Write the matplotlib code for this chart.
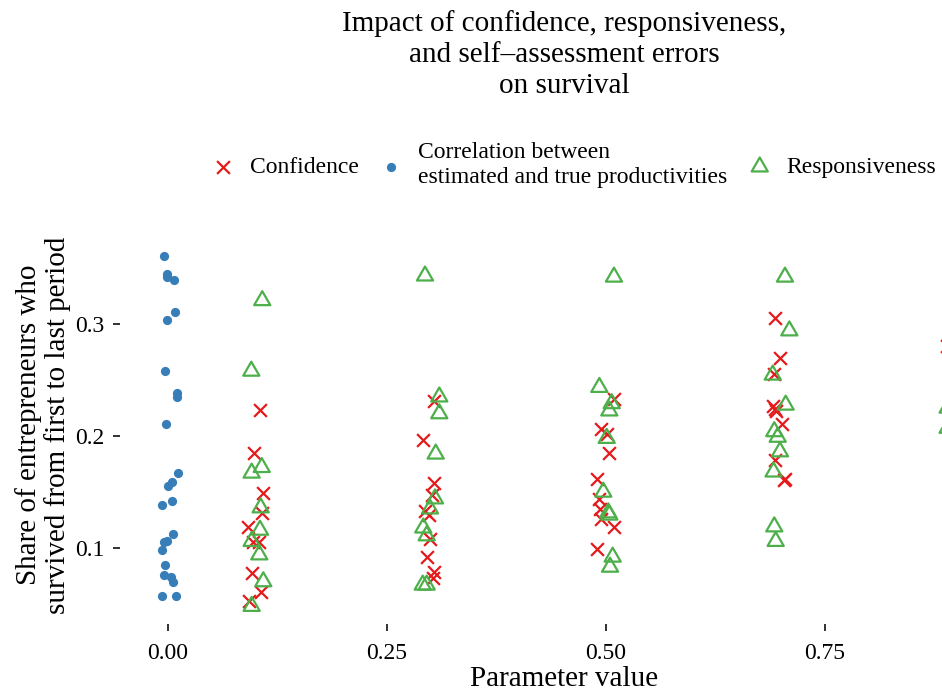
import matplotlib
matplotlib.use("Agg")
import matplotlib.pyplot as plt
from matplotlib.path import Path
import numpy as np

# ---- data (x includes the visible jitter) ----
conf_x = [0.1050, 0.0982, 0.1081, 0.1070, 0.0917, 0.0974, 0.1042, 0.0955, 0.1058, 0.0928,
          0.3037, 0.2914, 0.3037, 0.3010, 0.2934, 0.2983, 0.2991, 0.2953, 0.3037, 0.3029,
          0.5091, 0.4939, 0.5008, 0.5038, 0.4901, 0.4924, 0.4932, 0.4939, 0.5091, 0.4901,
          0.6929, 0.6986, 0.6918, 0.6910, 0.6929, 0.6941, 0.7005, 0.6929, 0.7043, 0.7032,
          0.8890]
conf_y = [0.223, 0.185, 0.149, 0.1315, 0.119, 0.105, 0.105, 0.078, 0.061, 0.053,
          0.231, 0.196, 0.158, 0.147, 0.133, 0.1295, 0.108, 0.092, 0.079, 0.073,
          0.233, 0.206, 0.202, 0.185, 0.162, 0.1435, 0.135, 0.126, 0.119, 0.099,
          0.305, 0.270, 0.255, 0.227, 0.224, 0.222, 0.211, 0.1786, 0.162, 0.161,
          0.280]

corr_x = [-0.0046, -0.0015, -0.0015, 0.0068, 0.0080, -0.0008, -0.0034, 0.0099, 0.0099,
          -0.0026, 0.0111, 0.0042, 0.0003, -0.0068, 0.0046, 0.0054, -0.0015, -0.0046,
          -0.0068, -0.0038, -0.0042, 0.0034, 0.0054, -0.0068, 0.0095]
corr_y = [0.361, 0.345, 0.342, 0.339, 0.311, 0.304, 0.258, 0.238, 0.235,
          0.211, 0.167, 0.159, 0.155, 0.138, 0.142, 0.1125, 0.106, 0.105,
          0.098, 0.085, 0.076, 0.074, 0.070, 0.057, 0.057]

resp_x = [0.1076, 0.0951, 0.1070, 0.0955, 0.1058, 0.1050, 0.0955, 0.1042, 0.1088, 0.0955,
          0.2934, 0.3097, 0.3097, 0.3056, 0.3048, 0.2991, 0.2914, 0.2953, 0.2908, 0.2953,
          0.5091, 0.4924, 0.5065, 0.5038, 0.5008, 0.4969, 0.5026, 0.5038, 0.5076, 0.5046,
          0.7043, 0.7093, 0.6903, 0.7051, 0.6921, 0.6960, 0.6986, 0.6913, 0.6921, 0.6937,
          0.8900, 0.8900]
resp_y = [0.321, 0.258, 0.172, 0.167, 0.136, 0.116, 0.106, 0.094, 0.070, 0.048,
          0.343, 0.235, 0.220, 0.184, 0.144, 0.135, 0.118, 0.111, 0.067, 0.067,
          0.342, 0.2435, 0.229, 0.2225, 0.198, 0.150, 0.1315, 0.1295, 0.092, 0.083,
          0.342, 0.294, 0.2545, 0.2277, 0.204, 0.199, 0.186, 0.168, 0.119, 0.106,
          0.225, 0.207]

series_labels = ["Confidence",
                 "Correlation between\nestimated and true productivities",
                 "Responsiveness"]
x_ticks = [0.0, 0.25, 0.5, 0.75]
x_tick_labels = ["0.00", "0.25", "0.50", "0.75"]
y_ticks = [0.1, 0.2, 0.3]
y_tick_labels = ["0.1", "0.2", "0.3"]

title = "Impact of confidence, responsiveness,\nand self\u2013assessment errors\non survival"
xlabel = "Parameter value"
ylabel = "Share of entrepreneurs who\nsurvived from first to last period"

# ---- style ----
plt.rcParams['font.family'] = ['Liberation Serif', 'DejaVu Serif']
RED, BLUE, GREEN = "#E41A1C", "#377EB8", "#4DAF4A"

W, H = 942, 695
fig = plt.figure(figsize=(W / 100, H / 100), dpi=100)

# panel in pixels (extends beyond the right edge, as in the cropped original)
L, R, T, B = 120, 1008, 238, 624
ax = fig.add_axes([L / W, 1 - B / H, (R - L) / W, (B - T) / H])
ax.set_xlim((L - 168) / 876, (R - 168) / 876)
ax.set_ylim(0.1 - (B - 548) / 1120, 0.1 + (548 - T) / 1120)
for s in ax.spines.values():
    s.set_visible(False)
ax.patch.set_alpha(0)

tri = Path([(0, 0.5774), (-0.5, -0.2887), (0.5, -0.2887), (0, 0.5774)],
           [Path.MOVETO, Path.LINETO, Path.LINETO, Path.CLOSEPOLY])

ax.scatter(conf_x, conf_y, marker="x", s=85, c=RED, linewidths=1.6,
           label=series_labels[0], clip_on=False, zorder=3)
ax.scatter(corr_x, corr_y, marker="o", s=44, c=BLUE, linewidths=0,
           label=series_labels[1], clip_on=False, zorder=3)
ax.scatter(resp_x, resp_y, marker=tri, s=180, facecolors="none", edgecolors=GREEN,
           linewidths=1.6, label=series_labels[2], clip_on=False, zorder=3)

ax.set_xticks(x_ticks)
ax.set_xticklabels(x_tick_labels)
ax.set_yticks(y_ticks)
ax.set_yticklabels(y_tick_labels)
ax.tick_params(axis="both", length=5, width=1.3, color="#222222",
               labelsize=17, labelcolor="black")
ax.tick_params(axis="x", pad=9)
ax.tick_params(axis="y", pad=6)

ax.set_xlabel(xlabel, fontsize=21)
ax.xaxis.set_label_coords(0.5, -(679 - B) / (B - T))
ax.xaxis.label.set_va("center")
ax.set_ylabel(ylabel, fontsize=21, linespacing=1.12)
ax.yaxis.set_label_coords(-(L - 43) / (R - L), 0.5 - (425 - (T + B) / 2) / (B - T))
ax.yaxis.label.set_va("center")

fig.text(564 / W, 1 - 55 / H, title, ha="center", va="center",
         fontsize=21, linespacing=1.25, multialignment="center")

leg = fig.legend(loc="center left", bbox_to_anchor=(199 / W, 1 - 165 / H),
                 ncol=3, frameon=False, fontsize=17, borderpad=0,
                 handlelength=1.0, handletextpad=0.64, columnspacing=0.88,
                 scatterpoints=1)
for t in leg.get_texts():
    t.set_linespacing(1.25)

fig.savefig("out.png", dpi=100)
